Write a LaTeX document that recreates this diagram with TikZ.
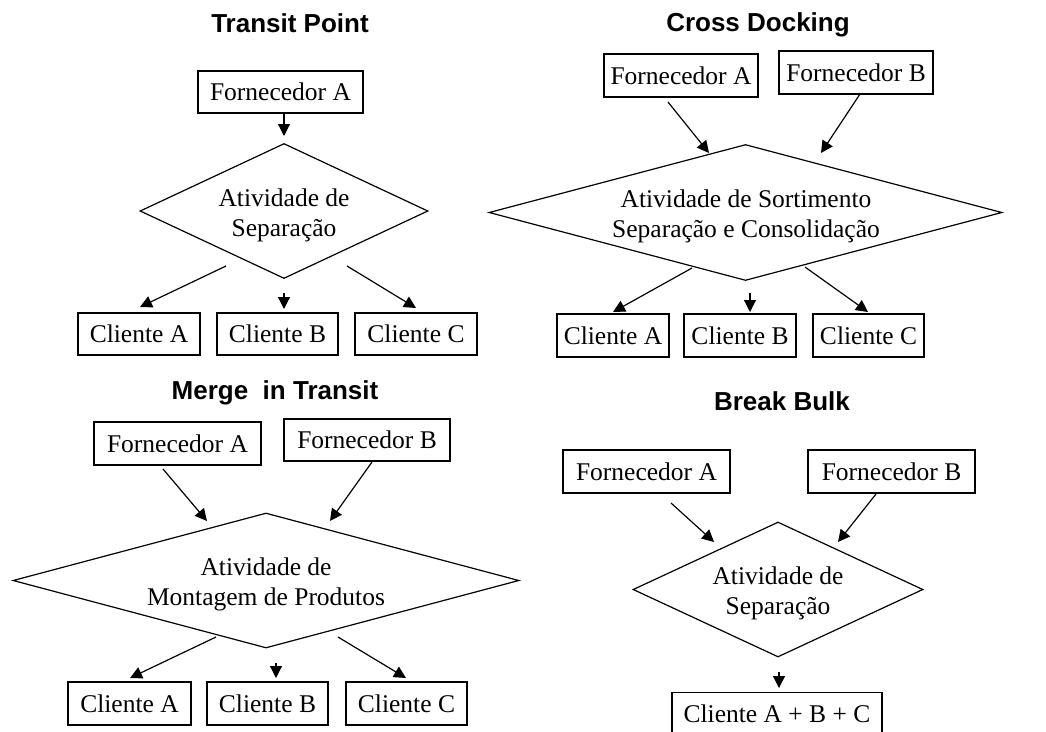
\documentclass[tikz,border=0pt]{standalone}
\usepackage{fontspec}
\setmainfont{Liberation Serif}
\newfontfamily\ttlfont{Liberation Sans}
\usetikzlibrary{arrows.meta,shapes.geometric}
\tikzset{
  box/.style={draw, line width=1.2pt, inner sep=0pt, font=\fontsize{25.5}{30}\selectfont},
  dia/.style={draw, diamond, line width=1.2pt, inner sep=0pt},
  diatext/.style={inner sep=0pt, align=center, font=\fontsize{25.5}{30}\selectfont},
  ttl/.style={inner sep=0pt, font=\ttlfont\bfseries\fontsize{26}{30}\selectfont},
  arr/.style={line width=1.2pt, -{Triangle[length=12pt,width=12pt]}}
}
\begin{document}
\begin{tikzpicture}[x=1pt,y=-1pt]
\useasboundingbox (0,0) rectangle (1046,731);
\fill[white] (0,0) rectangle (1046,731);
\clip (0,0) rectangle (1046,731);

% ---------------- Transit Point ----------------
\node[ttl] (t1) at (290,23) {Transit Point};
\node[box, minimum width=165pt, minimum height=42pt] (fa1) at (280.5,92) {Fornecedor A};
\node[dia, minimum width=288pt, minimum height=135pt] (d1) at (284,211) {};
\node[diatext] (d1t) at (284,215) {Atividade de\\Separação};
\node[box, minimum width=122pt, minimum height=42pt] (ca1) at (139,334) {Cliente A};
\node[box, minimum width=121pt, minimum height=42pt] (cb1) at (277.5,334) {Cliente B};
\node[box, minimum width=122pt, minimum height=42pt] (cc1) at (416,334) {Cliente C};
\coordinate (p1a) at (284,113); \coordinate (p1b) at (284,136);
\coordinate (q1a) at (226,266); \coordinate (q1b) at (140,307);
\coordinate (r1a) at (284,293); \coordinate (r1b) at (284,309);
\coordinate (s1a) at (347,266); \coordinate (s1b) at (416,308);
\draw[arr] (p1a) -- (p1b);
\draw[arr] (q1a) -- (q1b);
\draw[arr] (r1a) -- (r1b);
\draw[arr] (s1a) -- (s1b);

% ---------------- Cross Docking ----------------
\node[ttl] (t2) at (758,25) {Cross Docking};
\node[box, minimum width=154pt, minimum height=43pt] (fa2) at (681,75.5) {Fornecedor A};
\node[box, minimum width=154pt, minimum height=43pt] (fb2) at (856,72.5) {Fornecedor B};
\node[dia, minimum width=513pt, minimum height=136pt] (d2) at (745.5,212.5) {};
\node[diatext] (d2t) at (746,216) {Atividade de Sortimento\\Separação e Consolidação};
\node[box, minimum width=112pt, minimum height=43pt] (ca2) at (613,335.5) {Cliente A};
\node[box, minimum width=112pt, minimum height=43pt] (cb2) at (740,335.5) {Cliente B};
\node[box, minimum width=111pt, minimum height=43pt] (cc2) at (868.5,335.5) {Cliente C};
\coordinate (p2a) at (668,102); \coordinate (p2b) at (709,153);
\coordinate (o2a) at (860,94);  \coordinate (o2b) at (821,153);
\coordinate (q2a) at (692,268); \coordinate (q2b) at (613,312);
\coordinate (r2a) at (750,293); \coordinate (r2b) at (750,312);
\coordinate (s2a) at (805,267); \coordinate (s2b) at (868,312);
\draw[arr] (p2a) -- (p2b);
\draw[arr] (o2a) -- (o2b);
\draw[arr] (q2a) -- (q2b);
\draw[arr] (r2a) -- (r2b);
\draw[arr] (s2a) -- (s2b);

% ---------------- Merge in Transit ----------------
\node[ttl] (t3) at (275,393) {Merge\ \ in Transit};
\node[box, minimum width=167pt, minimum height=43pt] (fa3) at (177.5,443.5) {Fornecedor A};
\node[box, minimum width=166pt, minimum height=42pt] (fb3) at (367,440) {Fornecedor B};
\node[dia, minimum width=506pt, minimum height=135pt] (d3) at (266,580.5) {};
\node[diatext] (d3t) at (266,584) {Atividade de\\Montagem de Produtos};
\node[box, minimum width=123pt, minimum height=43pt] (ca3) at (129.5,703.5) {Cliente A};
\node[box, minimum width=121pt, minimum height=43pt] (cb3) at (267.5,703.5) {Cliente B};
\node[box, minimum width=121pt, minimum height=43pt] (cc3) at (406.5,703.5) {Cliente C};
\coordinate (p3a) at (163,469); \coordinate (p3b) at (207,521);
\coordinate (o3a) at (372,462); \coordinate (o3b) at (330,521);
\coordinate (q3a) at (216,637); \coordinate (q3b) at (130,678);
\coordinate (r3a) at (276,663); \coordinate (r3b) at (276,678);
\coordinate (s3a) at (338,637); \coordinate (s3b) at (406,678);
\draw[arr] (p3a) -- (p3b);
\draw[arr] (o3a) -- (o3b);
\draw[arr] (q3a) -- (q3b);
\draw[arr] (r3a) -- (r3b);
\draw[arr] (s3a) -- (s3b);

% ---------------- Break Bulk ----------------
\node[ttl] (t4) at (782,401) {Break Bulk};
\node[box, minimum width=167pt, minimum height=43pt] (fa4) at (646.5,471.5) {Fornecedor A};
\node[box, minimum width=167pt, minimum height=43pt] (fb4) at (891.5,471.5) {Fornecedor B};
\node[dia, minimum width=290pt, minimum height=135pt] (d4) at (778,589.5) {};
\node[diatext] (d4t) at (778,593) {Atividade de\\Separação};
\node[box, minimum width=210pt, minimum height=43pt, anchor=north] (cabc) at (777,692) {Cliente A + B + C};
\coordinate (p4a) at (671,503); \coordinate (p4b) at (714,542);
\coordinate (o4a) at (876,494); \coordinate (o4b) at (838,542);
\coordinate (r4a) at (779,672); \coordinate (r4b) at (779,688);
\draw[arr] (p4a) -- (p4b);
\draw[arr] (o4a) -- (o4b);
\draw[arr] (r4a) -- (r4b);
\end{tikzpicture}
\end{document}
